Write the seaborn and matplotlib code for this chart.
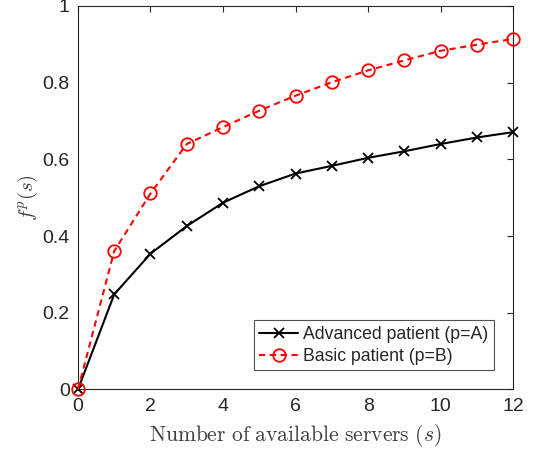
import numpy as np
import pandas as pd
import matplotlib
matplotlib.use("Agg")
import matplotlib.pyplot as plt
import seaborn as sns

servers = list(range(13))
advanced = [0.0, 0.248, 0.354, 0.426, 0.487, 0.530, 0.563, 0.583, 0.604, 0.621, 0.640, 0.657, 0.671]
basic = [0.0, 0.361, 0.511, 0.640, 0.684, 0.727, 0.766, 0.801, 0.832, 0.858, 0.883, 0.899, 0.914]
series_names = ["Advanced patient (p=A)", "Basic patient (p=B)"]
x_ticks = [0, 2, 4, 6, 8, 10, 12]
y_ticks = [0, 0.2, 0.4, 0.6, 0.8, 1.0]
y_tick_labels = ["0", "0.2", "0.4", "0.6", "0.8", "1"]

sns.set_style("white")
plt.rcParams["font.family"] = ["Liberation Sans", "DejaVu Sans"]
plt.rcParams["mathtext.fontset"] = "cm"

df = pd.DataFrame({
    "s": servers * 2,
    "f": advanced + basic,
    "series": [series_names[0]] * len(servers) + [series_names[1]] * len(servers),
})

fig = plt.figure(figsize=(5.34, 4.55), dpi=100)
ax = fig.add_axes([0.146, 0.144, 0.815, 0.843])

sns.lineplot(data=df[df.series == series_names[0]], x="s", y="f", ax=ax,
             color="black", linewidth=1.5, marker="x", markersize=7.5,
             markeredgecolor="black", markeredgewidth=1.3,
             label=series_names[0], clip_on=False, zorder=3)
sns.lineplot(data=df[df.series == series_names[1]], x="s", y="f", ax=ax,
             color="#ff0000", linewidth=1.5, linestyle=(0, (3, 2.2)), marker="o",
             markersize=9, markerfacecolor="none", markeredgecolor="#ff0000",
             markeredgewidth=1.3, label=series_names[1], clip_on=False, zorder=4)

ax.set_xlim(0, 12)
ax.set_ylim(0, 1)
ax.set_xticks(x_ticks)
ax.set_yticks(y_ticks)
ax.set_yticklabels(y_tick_labels)
ax.tick_params(direction="in", length=4, width=0.8, top=True, right=True,
               labelsize=14, colors="#262626", pad=6)
for sp in ax.spines.values():
    sp.set_visible(True)
    sp.set_color("#262626")
    sp.set_linewidth(0.8)

ax.set_xlabel(r"$\mathrm{Number\ of\ available\ servers\ }(s)$", fontsize=15.5,
              color="#404040", labelpad=5)
ax.set_ylabel(r"$f^p(s)$", fontsize=15, color="#404040", labelpad=2)

leg = ax.legend(loc="lower right", bbox_to_anchor=(0.956, 0.05), fontsize=12.7,
                frameon=True, fancybox=False, edgecolor="#262626",
                handlelength=2.2, handletextpad=0.3, borderpad=0.3,
                labelspacing=0.3, borderaxespad=0)
leg.get_frame().set_linewidth(0.8)

fig.savefig("out.png", dpi=100)
